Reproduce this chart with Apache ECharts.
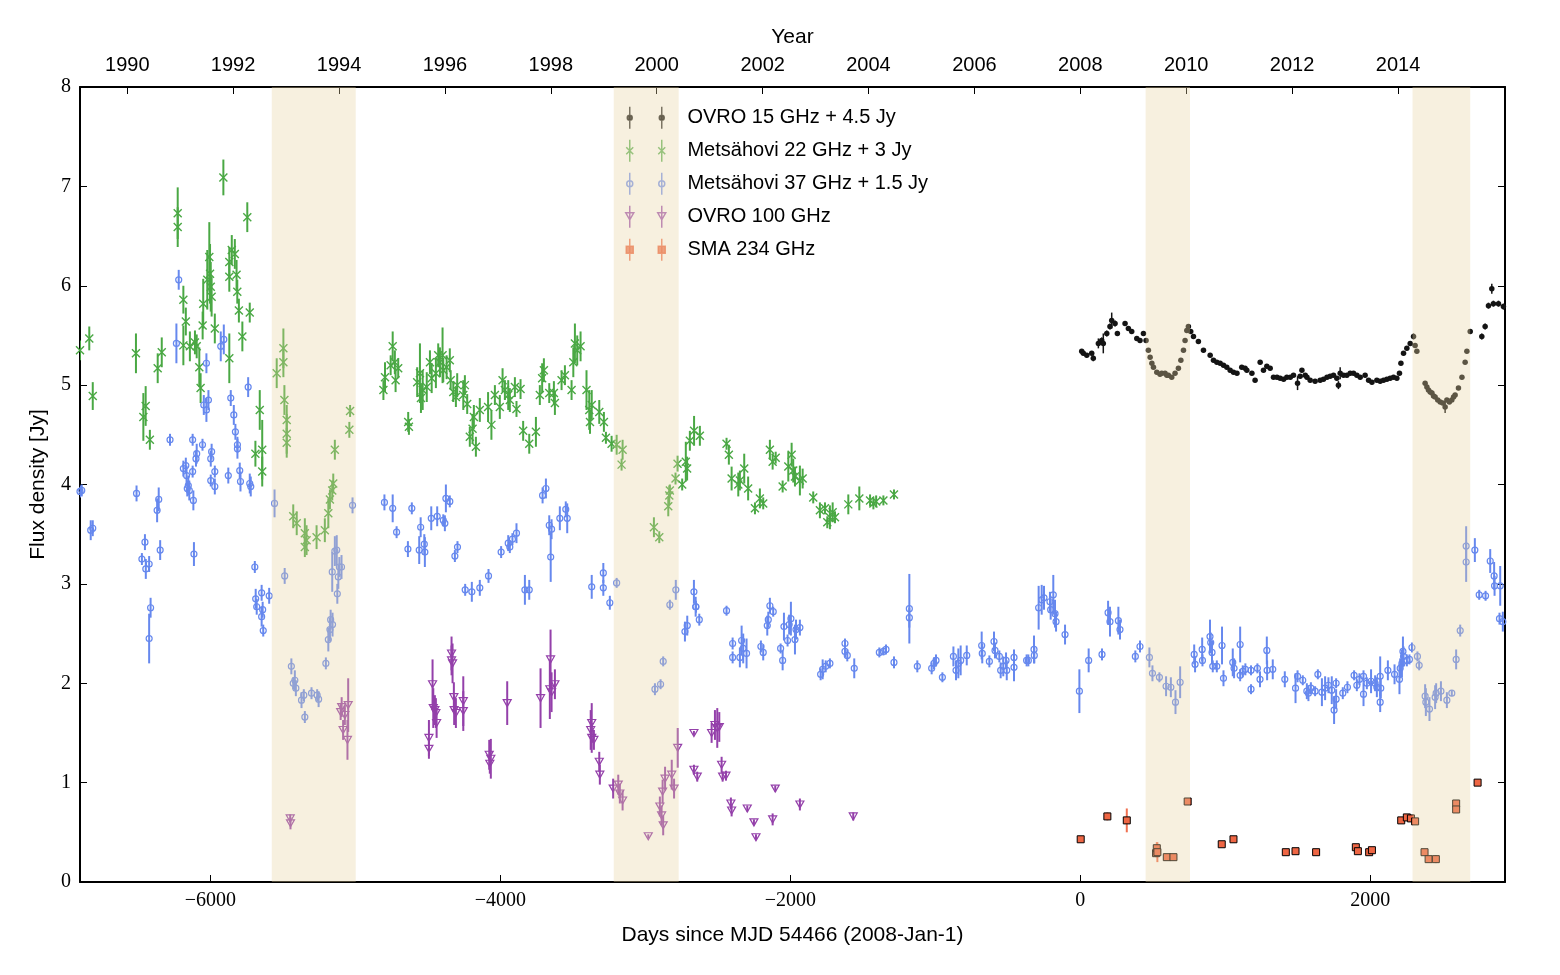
<!DOCTYPE html>
<html>
<head>
<meta charset="utf-8">
<script src="https://cdn.jsdelivr.net/npm/echarts@6.0.0/dist/echarts.min.js"></script>
<style>
  html, body { margin: 0; padding: 0; background: #fff; }
  #container { width: 1560px; height: 975px; }
</style>
</head>
<body>
<div id="container"></div>
<script>
// [day, flux (offset already added), error]
var ovro15 = [
  [10,5.34,0.02],[21,5.32,0.02],[45,5.30,0.02],[79,5.32,0.02],[90,5.27,0.03],[125,5.42,0.05],[148,5.45,0.03],
  [159,5.42,0.1],[183,5.52,0.03],[205,5.59,0.03],[217,5.65,0.08],[240,5.62,0.03],[256,5.52,0.02],[309,5.62,0.02],
  [332,5.57,0.02],[355,5.54,0.02],[390,5.47,0.02],[412,5.45,0.02],[436,5.52,0.02],[454,5.45,0.02],[470,5.35,0.02],
  [482,5.28,0.02],[494,5.22,0.02],[505,5.18,0.02],[528,5.13,0.02],[550,5.11,0.02],[562,5.12,0.02],[585,5.12,0.02],
  [597,5.10,0.02],[608,5.10,0.02],[631,5.08,0.02],[654,5.12,0.02],[677,5.17,0.02],[694,5.25,0.02],[712,5.35,0.02],
  [723,5.45,0.02],[735,5.55,0.02],[746,5.59,0.02],[762,5.54,0.02],[781,5.49,0.02],[815,5.44,0.02],[850,5.35,0.02],
  [896,5.30,0.02],[919,5.25,0.02],[942,5.23,0.02],[965,5.22,0.02],[988,5.20,0.02],[1011,5.18,0.02],[1034,5.15,0.02],
  [1057,5.13,0.02],[1081,5.12,0.02],[1114,5.18,0.02],[1137,5.17,0.02],[1149,5.15,0.02],[1184,5.12,0.02],[1206,5.05,0.02],
  [1241,5.23,0.02],[1264,5.15,0.02],[1287,5.19,0.02],[1310,5.17,0.02],[1333,5.08,0.02],[1357,5.08,0.02],[1379,5.07,0.02],
  [1403,5.06,0.02],[1425,5.08,0.02],[1449,5.08,0.02],[1471,5.10,0.02],[1499,5.02,0.07],[1517,5.09,0.02],[1529,5.15,0.02],
  [1552,5.10,0.02],[1564,5.08,0.02],[1586,5.05,0.02],[1620,5.04,0.02],[1655,5.05,0.02],[1678,5.06,0.02],[1702,5.08,0.02],
  [1724,5.09,0.02],[1747,5.10,0.02],[1770,5.07,0.02],[1781,5.00,0.04],[1793,5.12,0.06],[1816,5.10,0.02],[1839,5.10,0.02],
  [1862,5.12,0.02],[1885,5.12,0.02],[1908,5.10,0.02],[1931,5.08,0.02],[1965,5.10,0.02],[1989,5.05,0.02],[2012,5.03,0.02],
  [2046,5.05,0.02],[2069,5.04,0.02],[2092,5.05,0.02],[2115,5.06,0.02],[2138,5.07,0.02],[2161,5.08,0.02],[2184,5.07,0.02],
  [2202,5.12,0.02],[2212,5.22,0.02],[2230,5.32,0.02],[2253,5.37,0.02],[2276,5.42,0.02],[2299,5.49,0.03],[2310,5.40,0.02],
  [2322,5.34,0.02],[2379,5.02,0.02],[2391,4.98,0.02],[2402,4.95,0.02],[2414,4.93,0.02],[2426,4.92,0.02],[2437,4.89,0.02],
  [2448,4.88,0.02],[2466,4.85,0.02],[2483,4.83,0.02],[2500,4.82,0.02],[2517,4.78,0.06],[2529,4.85,0.02],[2546,4.83,0.02],
  [2563,4.85,0.02],[2575,4.88,0.02],[2586,4.90,0.02],[2609,4.97,0.02],[2633,5.08,0.02],[2655,5.23,0.02],[2667,5.34,0.02],
  [2690,5.54,0.02],[2770,5.49,0.03],[2793,5.59,0.03],[2816,5.80,0.03],[2839,5.97,0.05],[2850,5.82,0.03],[2885,5.82,0.03],
  [2919,5.79,0.03]
];

var met22 = [
  [-6900,5.35,0.1],[-6836,5.47,0.12],[-6812,4.89,0.14],[-6514,5.32,0.2],[-6463,4.68,0.24],[-6447,4.79,0.2],
  [-6418,4.45,0.1],[-6364,5.17,0.15],[-6336,5.33,0.15],[-6226,6.73,0.26],[-6226,6.59,0.2],[-6187,5.86,0.14],
  [-6170,5.64,0.14],[-6187,5.40,0.2],[-6142,5.39,0.15],[-6107,5.43,0.12],[-6095,5.39,0.12],[-6077,5.18,0.2],
  [-6068,4.97,0.15],[-6054,5.60,0.14],[-6050,5.82,0.25],[-6022,6.06,0.3],[-6008,6.29,0.35],[-6003,6.12,0.3],
  [-5998,5.99,0.25],[-5992,5.89,0.2],[-5970,5.57,0.15],[-5911,7.09,0.18],[-5870,6.24,0.15],[-5870,6.09,0.15],
  [-5870,5.27,0.25],[-5853,6.36,0.15],[-5832,6.32,0.15],[-5820,6.11,0.15],[-5815,5.94,0.12],[-5804,5.75,0.12],
  [-5780,5.49,0.15],[-5746,6.69,0.15],[-5729,5.73,0.1],[-5690,4.31,0.13],[-5660,4.75,0.2],[-5643,4.35,0.3],
  [-5643,4.13,0.15],[-5543,5.12,0.15],[-5497,5.37,0.2],[-5497,5.23,0.15],[-5490,4.85,0.15],[-5474,4.65,0.15],
  [-5474,4.51,0.2],[-5474,4.42,0.15],[-5429,3.68,0.12],[-5405,3.61,0.12],[-5349,3.51,0.15],[-5349,3.37,0.1],
  [-5337,3.44,0.15],[-5268,3.47,0.12],[-5211,3.54,0.12],[-5187,3.71,0.15],[-5176,3.85,0.1],[-5160,3.94,0.1],
  [-5153,4.01,0.1],[-5142,4.35,0.1],[-5042,4.55,0.08],[-5037,4.74,0.06],
  [-4807,4.95,0.1],[-4796,5.08,0.15],[-4743,5.39,0.15],[-4757,5.20,0.1],[-4728,5.23,0.12],[-4723,5.05,0.12],
  [-4705,5.17,0.1],[-4636,4.63,0.1],[-4631,4.58,0.08],[-4574,5.03,0.15],[-4555,5.12,0.3],[-4548,4.87,0.15],
  [-4536,4.95,0.2],[-4508,4.98,0.15],[-4486,5.23,0.12],[-4474,5.07,0.15],[-4445,5.12,0.15],[-4429,5.30,0.12],
  [-4417,5.23,0.15],[-4399,5.30,0.28],[-4394,5.15,0.12],[-4371,5.18,0.12],[-4349,5.25,0.12],[-4343,5.05,0.1],
  [-4325,4.93,0.1],[-4307,4.88,0.1],[-4298,5.00,0.12],[-4256,4.90,0.15],[-4245,5.00,0.1],[-4229,4.81,0.1],
  [-4211,4.48,0.1],[-4192,4.56,0.15],[-4183,4.68,0.12],[-4169,4.38,0.1],[-4142,4.75,0.12],[-4085,4.78,0.15],
  [-4062,4.60,0.15],[-4038,4.90,0.1],[-4004,4.78,0.12],[-3985,5.05,0.12],[-3969,4.95,0.1],[-3946,4.90,0.15],
  [-3935,4.85,0.12],[-3900,4.98,0.1],[-3889,4.76,0.08],[-3861,4.96,0.1],[-3843,4.54,0.1],[-3801,4.41,0.1],
  [-3755,4.53,0.15],[-3728,4.90,0.1],[-3712,5.07,0.15],[-3700,5.15,0.12],[-3663,4.92,0.1],[-3631,4.92,0.12],
  [-3624,4.82,0.12],[-3578,5.05,0.1],[-3555,5.10,0.1],[-3509,4.95,0.1],[-3497,5.23,0.15],[-3486,5.42,0.2],
  [-3470,5.35,0.15],[-3447,5.39,0.15],[-3406,4.95,0.2],[-3387,4.75,0.2],
  [-3370,4.80,0.15],[-3382,4.63,0.12],[-3318,4.73,0.12],[-3286,4.63,0.1],[-3272,4.47,0.06],[-3233,4.41,0.08],
  [-3198,4.40,0.1],[-3157,4.35,0.1],[-3164,4.20,0.06],[-2941,3.57,0.1],[-2904,3.47,0.06],[-2842,3.78,0.1],
  [-2835,3.89,0.1],[-2831,3.94,0.06],[-2792,4.06,0.06],[-2778,4.21,0.08],[-2746,4.00,0.06],[-2721,4.23,0.2],
  [-2712,4.16,0.12],[-2693,4.44,0.1],[-2664,4.54,0.15],[-2624,4.49,0.1],[-2440,4.41,0.06],[-2424,4.30,0.1],
  [-2405,4.06,0.12],[-2359,4.00,0.12],[-2348,4.04,0.1],[-2318,4.16,0.15],[-2291,3.96,0.12],[-2244,3.76,0.06],
  [-2210,3.86,0.1],[-2187,3.81,0.06],[-2141,4.35,0.1],[-2122,4.23,0.08],[-2101,4.27,0.06],[-2053,3.98,0.06],
  [-2014,4.18,0.15],[-1991,4.30,0.12],[-1980,4.14,0.12],[-1968,4.08,0.1],[-1934,4.04,0.15],[-1915,4.06,0.1],
  [-1842,3.87,0.06],[-1796,3.74,0.08],[-1761,3.76,0.06],[-1745,3.62,0.06],[-1727,3.67,0.12],[-1708,3.72,0.1],
  [-1692,3.67,0.06],[-1600,3.80,0.1],[-1524,3.86,0.12],[-1450,3.84,0.06],[-1427,3.81,0.06],[-1408,3.83,0.06],
  [-1358,3.84,0.05],[-1285,3.90,0.05]
];

var met37 = [
  [-6900,3.93,0.06],[-6888,3.94,0.06],[-6826,3.54,0.1],[-6812,3.56,0.08],[-6510,3.91,0.08],[-6473,3.25,0.06],
  [-6452,3.42,0.08],[-6446,3.15,0.1],[-6423,3.20,0.08],[-6413,2.76,0.1],[-6423,2.45,0.25],[-6368,3.74,0.12],
  [-6357,3.85,0.12],[-6347,3.34,0.1],[-6279,4.45,0.06],[-6235,5.42,0.2],[-6219,6.06,0.1],[-6187,4.16,0.08],
  [-6170,4.19,0.08],[-6165,4.09,0.1],[-6160,3.96,0.08],[-6153,3.99,0.1],[-6146,3.94,0.1],[-6123,4.45,0.06],
  [-6123,4.13,0.06],[-6118,3.84,0.1],[-6114,3.30,0.12],[-6100,4.26,0.08],[-6095,4.31,0.1],[-6055,4.40,0.06],
  [-6046,4.80,0.1],[-6028,5.22,0.1],[-6028,4.75,0.12],[-6014,4.85,0.1],[-5998,4.26,0.08],[-5992,4.33,0.08],
  [-5998,4.04,0.06],[-5970,4.13,0.06],[-5970,3.98,0.08],[-5929,5.39,0.15],[-5908,5.46,0.15],[-5877,4.09,0.08],
  [-5860,4.87,0.08],[-5839,4.70,0.1],[-5828,4.53,0.08],[-5814,4.40,0.08],[-5814,4.36,0.1],[-5798,4.14,0.08],
  [-5793,4.03,0.1],[-5740,4.98,0.1],[-5729,4.01,0.1],[-5722,3.98,0.1],[-5694,3.17,0.06],[-5688,2.85,0.1],
  [-5681,2.77,0.08],[-5647,2.91,0.08],[-5647,2.67,0.1],[-5640,2.74,0.08],[-5636,2.53,0.06],[-5595,2.88,0.08],
  [-5558,3.81,0.14],[-5488,3.08,0.08],[-5442,2.17,0.08],[-5429,2.00,0.06],[-5418,2.03,0.1],[-5411,1.95,0.08],
  [-5372,1.83,0.08],[-5356,1.88,0.06],[-5349,1.66,0.06],[-5303,1.90,0.06],[-5264,1.88,0.06],[-5254,1.84,0.08],
  [-5204,2.20,0.06],[-5187,2.44,0.12],[-5176,2.54,0.12],[-5171,2.64,0.1],[-5158,2.59,0.12],[-5160,3.12,0.2],
  [-5142,3.33,0.15],[-5129,3.34,0.15],[-5125,2.90,0.1],[-5118,3.07,0.12],[-5111,3.17,0.1],[-5096,3.17,0.12],
  [-5020,3.79,0.08],
  [-4800,3.82,0.08],[-4743,3.76,0.14],[-4716,3.52,0.06],[-4638,3.35,0.08],[-4611,3.76,0.06],[-4560,3.34,0.14],
  [-4550,3.57,0.1],[-4525,3.40,0.1],[-4521,3.32,0.15],[-4477,3.66,0.12],[-4436,3.68,0.1],[-4394,3.64,0.06],
  [-4383,3.61,0.08],[-4376,3.86,0.14],[-4349,3.83,0.06],[-4314,3.28,0.06],[-4296,3.37,0.06],[-4243,2.94,0.06],
  [-4197,2.92,0.1],[-4142,2.96,0.08],[-4082,3.08,0.07],[-3995,3.32,0.06],[-3946,3.41,0.08],[-3935,3.37,0.06],
  [-3917,3.45,0.06],[-3889,3.51,0.1],[-3831,2.94,0.15],[-3801,2.94,0.1],[-3709,3.89,0.08],[-3686,3.96,0.1],
  [-3663,3.59,0.1],[-3647,3.55,0.1],[-3653,3.27,0.25],[-3590,3.66,0.12],[-3549,3.75,0.08],[-3539,3.66,0.15],
  [-3370,2.97,0.12],[-3290,3.11,0.1],[-3290,2.96,0.08],[-3245,2.81,0.07],[-3198,3.01,0.05],[-2934,1.94,0.06],
  [-2895,1.99,0.05],[-2877,2.22,0.05],[-2831,2.79,0.05],[-2790,2.94,0.1],[-2727,2.52,0.1],[-2711,2.58,0.1],
  [-2665,2.92,0.12],[-2653,2.77,0.1],[-2651,2.77,0.06],[-2628,2.64,0.06],[-2440,2.73,0.05],[-2398,2.40,0.06],
  [-2398,2.26,0.06],[-2348,2.26,0.1],[-2336,2.43,0.15],[-2325,2.35,0.15],[-2302,2.30,0.15],[-2203,2.37,0.06],
  [-2187,2.31,0.08],[-2159,2.58,0.1],[-2152,2.64,0.08],[-2141,2.78,0.08],[-2118,2.72,0.05],[-2067,2.35,0.05],
  [-2053,2.23,0.1],[-2044,2.57,0.14],[-2019,2.43,0.06],[-2008,2.59,0.1],[-1996,2.65,0.17],[-1968,2.44,0.15],
  [-1961,2.54,0.1],[-1934,2.56,0.08],[-1791,2.09,0.06],[-1777,2.14,0.1],[-1756,2.17,0.06],[-1727,2.20,0.05],
  [-1623,2.40,0.05],[-1623,2.32,0.06],[-1607,2.28,0.06],[-1559,2.15,0.1],[-1386,2.31,0.05],[-1358,2.32,0.04],
  [-1340,2.34,0.05],[-1285,2.21,0.06],
  [-1179,2.75,0.35],[-1179,2.66,0.1],[-1124,2.17,0.06],[-1025,2.15,0.06],[-1009,2.20,0.06],[-995,2.23,0.06],
  [-951,2.06,0.05],[-875,2.27,0.1],[-857,2.13,0.1],[-841,2.20,0.15],[-825,2.23,0.15],[-783,2.28,0.1],
  [-680,2.38,0.14],[-676,2.30,0.1],[-627,2.22,0.06],[-595,2.42,0.1],[-588,2.33,0.08],[-558,2.27,0.06],
  [-549,2.13,0.08],[-531,2.17,0.1],[-512,2.23,0.08],[-507,2.13,0.1],[-457,2.26,0.08],[-457,2.16,0.14],
  [-370,2.23,0.06],[-358,2.23,0.06],[-319,2.34,0.14],[-317,2.28,0.08],[-287,2.76,0.22],[-266,2.84,0.15],
  [-250,2.86,0.12],[-209,2.82,0.1],[-204,2.74,0.1],[-186,2.89,0.2],[-174,2.70,0.14],[-167,2.62,0.1],
  [-105,2.49,0.1],[-6,1.92,0.22],[58,2.23,0.12],[150,2.29,0.06],[192,2.71,0.12],[205,2.62,0.15],
  [263,2.63,0.14],[274,2.54,0.1],[380,2.27,0.06],[412,2.37,0.06],[477,2.26,0.1],[498,2.10,0.08],
  [546,2.06,0.05],[592,1.97,0.1],[625,1.96,0.1],[657,1.81,0.12],[689,2.01,0.16],[786,2.29,0.1],
  [792,2.19,0.08],[841,2.34,0.12],[843,2.23,0.06],[895,2.47,0.17],[900,2.41,0.1],[909,2.31,0.12],
  [914,2.17,0.06],[942,2.17,0.06],[978,2.38,0.19],[988,2.05,0.08],[1052,2.21,0.14],[1061,2.15,0.1],
  [1103,2.39,0.18],[1103,2.08,0.06],[1121,2.12,0.06],[1139,2.14,0.06],[1178,2.13,0.05],[1178,1.94,0.05],
  [1222,2.15,0.05],[1240,2.04,0.08],[1287,2.33,0.14],[1289,2.13,0.1],[1328,2.14,0.1],[1411,2.04,0.08],
  [1485,1.95,0.15],[1499,2.07,0.06],[1535,2.03,0.05],[1563,1.92,0.08],[1574,1.90,0.08],[1591,1.95,0.06],
  [1620,1.92,0.05],[1639,2.09,0.05],[1667,1.91,0.14],[1689,1.95,0.12],[1712,1.98,0.08],[1735,1.93,0.14],
  [1751,1.73,0.14],[1765,1.84,0.1],[1765,2.00,0.05],[1811,1.90,0.06],[1843,1.96,0.06],[1889,2.08,0.05],
  [1908,1.98,0.06],[1926,2.04,0.06],[1954,2.07,0.06],[1954,1.89,0.12],[1977,2.00,0.06],[2006,2.02,0.12],
  [2034,2.00,0.08],[2046,1.96,0.1],[2069,2.07,0.2],[2073,1.95,0.1],[2069,1.81,0.1],[2122,2.13,0.1],
  [2168,2.09,0.1],[2202,2.04,0.15],[2207,2.15,0.1],[2219,2.20,0.14],[2226,2.32,0.15],[2230,2.27,0.1],
  [2253,2.23,0.06],[2271,2.24,0.05],[2288,2.36,0.05],[2326,2.27,0.05],[2338,2.18,0.05],[2379,1.87,0.12],
  [2384,1.81,0.14],[2409,1.74,0.12],[2448,1.86,0.12],[2455,1.90,0.1],[2488,1.92,0.1],[2529,1.83,0.08],
  [2563,1.90,0.03],[2593,2.24,0.1],[2621,2.53,0.06],[2662,3.38,0.2],[2662,3.22,0.2],[2722,3.34,0.12],
  [2752,2.89,0.05],[2796,2.88,0.05],[2828,3.23,0.12],[2855,3.08,0.14],[2858,2.98,0.1],[2897,2.98,0.2],
  [2892,2.65,0.06],[2915,2.62,0.1]
];

var ovro100 = [
  [-5450,0.64,0.04],[-5448,0.59,0.06],[-5102,1.71,0.08],[-5095,1.76,0.1],[-5085,1.53,0.1],[-5073,1.68,0.1],
  [-5055,1.43,0.2],[-5050,1.78,0.27],[-4493,1.45,0.18],[-4493,1.34,0.1],[-4468,1.99,0.25],[-4463,1.75,0.2],
  [-4452,1.73,0.15],[-4445,1.70,0.15],[-4440,1.60,0.15],[-4337,2.30,0.17],[-4337,2.23,0.15],[-4330,2.20,0.2],
  [-4321,1.86,0.15],[-4319,1.73,0.15],[-4307,1.70,0.15],[-4256,1.82,0.25],[-4256,1.72,0.2],[-4077,1.28,0.15],
  [-4073,1.19,0.1],[-4066,1.24,0.2],[-3953,1.80,0.22],[-3723,1.85,0.3],[-3659,1.94,0.3],[-3654,2.24,0.3],
  [-3647,1.91,0.2],[-3624,1.99,0.15],[-3377,1.53,0.2],[-3370,1.60,0.2],[-3370,1.45,0.15],[-3355,1.43,0.1],
  [-3318,1.21,0.1],[-3314,1.08,0.1],[-3222,0.94,0.1],[-3187,0.98,0.1],[-3176,0.89,0.1],[-3157,0.82,0.1],
  [-2980,0.46,0.02],[-2900,0.76,0.1],[-2888,0.67,0.1],[-2877,0.57,0.1],[-2881,0.91,0.12],[-2864,1.04,0.12],
  [-2818,1.08,0.15],[-2802,0.94,0.1],[-2777,1.35,0.2],[-2665,1.50,0.02],[-2665,1.13,0.05],[-2642,1.06,0.05],
  [-2543,1.50,0.1],[-2520,1.58,0.15],[-2504,1.55,0.2],[-2490,1.56,0.15],[-2474,1.18,0.08],[-2467,1.06,0.05],
  [-2444,1.07,0.05],[-2410,0.79,0.06],[-2405,0.72,0.06],[-2297,0.74,0.03],[-2251,0.60,0.03],[-2237,0.45,0.03],
  [-2122,0.63,0.06],[-2104,0.94,0.03],[-1934,0.78,0.06],[-1566,0.66,0.04]
];

var sma234 = [
  [3,0.43,0.02],[187,0.66,0.04],[321,0.62,0.12],[523,0.29,0.04],[528,0.34,0.06],[532,0.30,0.1],[597,0.25,0.02],
  [643,0.25,0.02],[741,0.81,0.02],[976,0.38,0.02],[1057,0.43,0.02],[1418,0.30,0.02],[1485,0.31,0.02],
  [1627,0.30,0.02],[1901,0.35,0.02],[1915,0.31,0.02],[1993,0.30,0.03],[2012,0.32,0.02],[2214,0.62,0.02],
  [2253,0.65,0.02],[2281,0.64,0.02],[2310,0.61,0.02],[2375,0.30,0.02],[2403,0.23,0.02],[2453,0.23,0.04],
  [2593,0.79,0.03],[2593,0.73,0.02],[2741,1.00,0.03]
];

var bands = [[-5577, -4998], [-3218, -2770], [451, 757], [2292, 2690]];
var dayTicks = [-6000, -4000, -2000, 0, 2000];
var yearTicks = [1990, 1992, 1994, 1996, 1998, 2000, 2002, 2004, 2006, 2008, 2010, 2012, 2014];

var names = ['OVRO 15 GHz + 4.5 Jy', 'Metsähovi 22 GHz + 3 Jy', 'Metsähovi 37 GHz + 1.5 Jy', 'OVRO 100 GHz', 'SMA 234 GHz'];
var colors = ['#141414', '#4aa844', '#6688ee', '#9440aa', '#ee6644'];

var dom = document.getElementById('container');
var myChart = echarts.init(dom);

// year ticks as day offsets from 2008-Jan-1
var yearDays = yearTicks.map(function (y) {
  return (Date.UTC(y, 0, 1) - Date.UTC(2008, 0, 1)) / 86400000;
});

var sans = 'Liberation Sans';
var serif = 'Liberation Serif';

// error bars
var errSeries = function (data, color, width) {
  return {
    type: 'custom',
    name: 'err',
    z: 2,
    clip: true,
    silent: true,
    renderItem: function (params, api) {
      var x = api.value(0), y = api.value(1), e = api.value(2);
      var p1 = api.coord([x, y - e]);
      var p2 = api.coord([x, y + e]);
      return {
        type: 'line',
        shape: { x1: p1[0], y1: p1[1], x2: p2[0], y2: p2[1] },
        style: { stroke: color, lineWidth: width }
      };
    },
    encode: { x: 0, y: 1 },
    data: data
  };
};

// legend icons, two samples each (40x22 box)
var bar = function (x) { return 'M' + x + ',0 L' + x + ',22 '; };
var circ = function (x, r) {
  return 'M' + (x - r) + ',11 A' + r + ',' + r + ' 0 1,1 ' + (x + r) + ',11 A' + r + ',' + r + ' 0 1,1 ' + (x - r) + ',11 Z ';
};
var cross = function (x) {
  return 'M' + (x - 3.5) + ',7.5 L' + (x + 3.5) + ',14.5 M' + (x + 3.5) + ',7.5 L' + (x - 3.5) + ',14.5 ';
};
var tri = function (x) {
  return 'M' + (x - 4) + ',7 L' + (x + 4) + ',7 L' + x + ',14 Z ';
};
var sq = function (x) {
  return 'M' + (x - 3.5) + ',7.5 L' + (x + 3.5) + ',7.5 L' + (x + 3.5) + ',14.5 L' + (x - 3.5) + ',14.5 Z ';
};
var icons = [
  'path://' + bar(4) + circ(4, 2.5) + bar(36) + circ(36, 2.5),
  'path://' + bar(4) + cross(4) + bar(36) + cross(36),
  'path://' + bar(4) + circ(4, 3) + bar(36) + circ(36, 3),
  'path://' + bar(4) + tri(4) + bar(36) + tri(36),
  'path://' + bar(4) + sq(4) + bar(36) + sq(36)
];
var iconFill = [colors[0], 'rgba(0,0,0,0)', 'rgba(0,0,0,0)', 'rgba(0,0,0,0)', colors[4]];

var series = [
  errSeries(ovro15, colors[0], 1.5),
  errSeries(met22, colors[1], 2),
  errSeries(met37, colors[2], 2),
  errSeries(ovro100, colors[3], 2),
  errSeries(sma234, '#f07050', 2),
  {
    name: names[0], type: 'scatter', z: 2, data: ovro15,
    symbol: 'circle', symbolSize: 5.5,
    itemStyle: { color: colors[0], opacity: 1 }
  },
  {
    name: names[1], type: 'scatter', z: 2, data: met22,
    symbol: 'path://M0,0 L10,10 M10,0 L0,10', symbolSize: 8,
    itemStyle: { color: 'rgba(0,0,0,0)', borderColor: colors[1], borderWidth: 1.4, opacity: 1 }
  },
  {
    name: names[2], type: 'scatter', z: 2, data: met37,
    symbol: 'circle', symbolSize: 6,
    itemStyle: { color: 'rgba(0,0,0,0)', borderColor: colors[2], borderWidth: 1.2, opacity: 1 }
  },
  {
    name: names[3], type: 'scatter', z: 2, data: ovro100,
    symbol: 'path://M0,0 L10,0 L5,9 Z', symbolSize: [8, 7],
    itemStyle: { color: 'rgba(0,0,0,0)', borderColor: colors[3], borderWidth: 1.2, opacity: 1 }
  },
  {
    name: names[4], type: 'scatter', z: 2, data: sma234,
    symbol: 'rect', symbolSize: 7,
    itemStyle: { color: colors[4], borderColor: '#000', borderWidth: 1, opacity: 1 }
  },
  {
    // shaded intervals, drawn over the data
    name: 'bands', type: 'line', z: 3, data: [], silent: true,
    markArea: {
      silent: true,
      z: 6,
      itemStyle: { color: 'rgba(232,210,160,0.34)' },
      data: bands.map(function (b) { return [{ xAxis: b[0] }, { xAxis: b[1] }]; })
    }
  }
];

var option = {
  backgroundColor: '#fff',
  animation: false,
  grid: { left: 80, right: 55, top: 87, bottom: 93, containLabel: false },
  legend: {
    orient: 'vertical',
    left: 620,
    top: 101,
    itemWidth: 40,
    itemHeight: 22,
    itemGap: 9.5,
    selectedMode: false,
    formatter: function (n) { return '   ' + n; },
    textStyle: { fontFamily: sans, fontSize: 20, color: '#000', lineHeight: 22 },
    data: names.map(function (n, i) {
      return {
        name: n,
        icon: icons[i],
        itemStyle: { color: iconFill[i], borderColor: colors[i], borderWidth: 1.5, opacity: 0.8 }
      };
    })
  },
  xAxis: [
    {
      type: 'value', position: 'bottom', min: -6900, max: 2930,
      name: 'Days since MJD 54466 (2008-Jan-1)', nameLocation: 'middle', nameGap: 43,
      nameTextStyle: { fontFamily: sans, fontSize: 21, color: '#000' },
      axisLine: { onZero: false, lineStyle: { color: '#000', width: 2 } },
      axisTick: { inside: true, length: 7, customValues: dayTicks, lineStyle: { color: '#000', width: 1 } },
      axisLabel: {
        customValues: dayTicks, margin: 9,
        fontFamily: serif, fontSize: 20, color: '#000',
        formatter: function (v) { return v < 0 ? '\u2212' + Math.abs(v) : String(v); }
      },
      splitLine: { show: false }
    },
    {
      type: 'value', position: 'top', min: -6900, max: 2930,
      name: 'Year', nameLocation: 'middle', nameGap: 39,
      nameTextStyle: { fontFamily: sans, fontSize: 21, color: '#000' },
      axisLine: { onZero: false, lineStyle: { color: '#000', width: 2 } },
      axisTick: { inside: true, length: 7, customValues: yearDays, lineStyle: { color: '#000', width: 1 } },
      axisLabel: {
        customValues: yearDays, margin: 12,
        fontFamily: sans, fontSize: 20, color: '#000',
        formatter: function (v) { return String(Math.round(2008 + v / 365.25)); }
      },
      splitLine: { show: false }
    }
  ],
  yAxis: [
    {
      type: 'value', position: 'left', min: 0, max: 8, interval: 1,
      name: 'Flux density [Jy]', nameLocation: 'middle', nameGap: 31, nameRotate: 90,
      nameTextStyle: { fontFamily: sans, fontSize: 21, color: '#000' },
      axisLine: { show: true, onZero: false, lineStyle: { color: '#000', width: 2 } },
      axisTick: { show: true, inside: true, length: 7, lineStyle: { color: '#000', width: 1 } },
      axisLabel: { margin: 9, fontFamily: serif, fontSize: 20, color: '#000' },
      splitLine: { show: false }
    },
    {
      type: 'value', position: 'right', min: 0, max: 8, interval: 1,
      axisLine: { show: true, onZero: false, lineStyle: { color: '#000', width: 2 } },
      axisTick: { show: true, inside: true, length: 7, lineStyle: { color: '#000', width: 1 } },
      axisLabel: { show: false },
      splitLine: { show: false }
    }
  ],
  series: series
};

myChart.setOption(option, true);
</script>
</body>
</html>
